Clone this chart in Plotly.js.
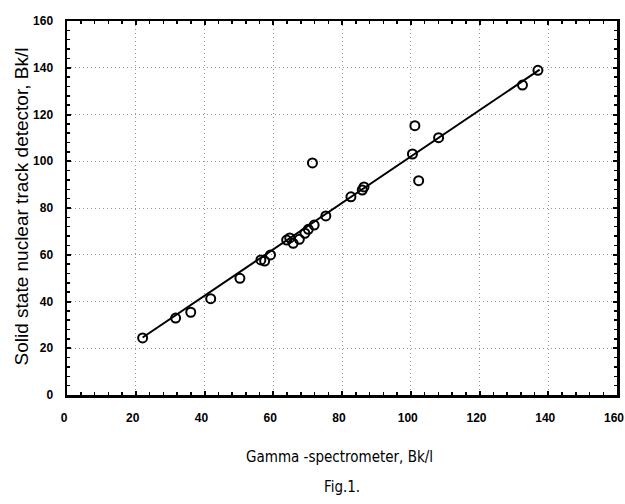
<!DOCTYPE html>
<html>
<head>
<meta charset="utf-8">
<script src="https://cdn.plot.ly/plotly-3.0.1.min.js"></script>
<style>html,body{margin:0;padding:0;background:#fff;}#chart{width:625px;height:504px;}</style>
</head>
<body>
<div id="chart"></div>
<script>
// Data
const gammaX = [22.0, 31.6, 36.0, 41.8, 50.3, 56.4, 57.5, 59.2, 63.9, 64.8, 65.8, 67.6, 69.2, 70.2, 71.9, 75.3, 71.4, 82.6, 85.9, 86.4, 100.5, 101.2, 102.3, 108.1, 132.5, 137.0];
const trackY = [24.4, 32.9, 35.4, 41.2, 49.9, 57.8, 57.3, 59.9, 66.3, 67.2, 64.9, 66.6, 69.2, 70.9, 72.7, 76.6, 99.3, 84.8, 87.7, 89.0, 103.1, 115.2, 91.7, 110.1, 132.6, 138.9];
const fitX = [22, 137.5];
const fitY = [24.6, 139.2];
const tickVals = [0, 20, 40, 60, 80, 100, 120, 140, 160];
const tickText = ['0', '20', '40', '60', '80', '100', '120', '140', '160'];

const tickFamily = 'Liberation Sans, Arial, sans-serif';

const traces = [
  {x: fitX, y: fitY, mode: 'lines', line: {color: '#000', width: 2}, hoverinfo: 'skip'},
  {x: gammaX, y: trackY, mode: 'markers',
   marker: {symbol: 'circle-open', size: 9, color: '#000', line: {width: 2, color: '#000'}}},
  {x: [0], y: [0], xaxis: 'x2', yaxis: 'y2', mode: 'markers', marker: {opacity: 0}, hoverinfo: 'skip'}
];

const axisCommon = {
  range: [0, 160], tickvals: tickVals, ticktext: tickText,
  zeroline: false, showline: true, linecolor: '#000', linewidth: 2.5,
  ticks: 'inside', ticklen: 4, tickwidth: 2, tickcolor: '#000',
  minor: {dtick: 4, ticks: 'inside', ticklen: 3, tickwidth: 1.5, tickcolor: '#000', showgrid: false},
  tickfont: {family: tickFamily, size: 12, color: '#000', weight: 'bold'},
  ticklabeloverflow: 'allow',
  fixedrange: true
};
const gridOpts = {showgrid: true, gridcolor: '#9a9a9a', griddash: '1px,3px', gridwidth: 1};

const layout = {
  width: 625, height: 504,
  margin: {l: 67, r: 8, t: 21, b: 109},
  paper_bgcolor: '#fff', plot_bgcolor: '#fff',
  showlegend: false,
  xaxis: Object.assign({}, axisCommon, gridOpts, {ticklabelstandoff: 10, ticklabelshift: -3}),
  yaxis: Object.assign({}, axisCommon, gridOpts, {ticklabelstandoff: 9}),
  xaxis2: Object.assign({}, axisCommon, {overlaying: 'x', side: 'top', showticklabels: false, showgrid: false}),
  yaxis2: Object.assign({}, axisCommon, {overlaying: 'y', side: 'right', showticklabels: false, showgrid: false}),
  annotations: [
    {text: 'Gamma -spectrometer, Bk/l', xref: 'paper', yref: 'paper', x: 0.495, y: -0.165,
     xanchor: 'center', yanchor: 'middle', showarrow: false,
     font: {family: 'DejaVu Sans Condensed, sans-serif', size: 15, color: '#000'}},
    {text: 'Fig.1.', xref: 'paper', yref: 'paper', x: 0.5, y: -0.247,
     xanchor: 'center', yanchor: 'middle', showarrow: false,
     font: {family: 'DejaVu Sans Condensed, sans-serif', size: 15, color: '#000'}},
    {text: 'Solid state nuclear track detector, Bk/l', xref: 'paper', yref: 'paper',
     x: -0.083, y: 0.505, xanchor: 'center', yanchor: 'middle', textangle: -90, showarrow: false,
     font: {family: 'Liberation Sans, Arial, sans-serif', size: 19, color: '#000'}}
  ]
};

Plotly.newPlot('chart', traces, layout, {staticPlot: true, displayModeBar: false});
</script>
</body>
</html>
